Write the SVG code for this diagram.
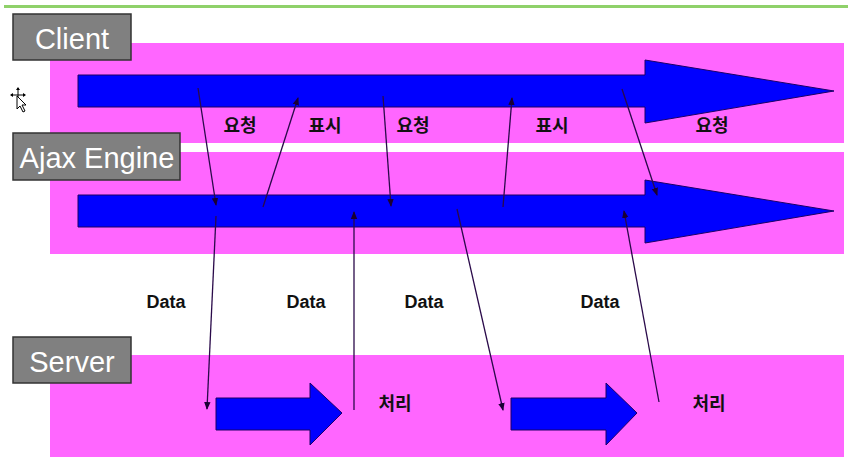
<svg xmlns="http://www.w3.org/2000/svg" width="848" height="460" viewBox="0 0 848 460">
<style>
.band{fill:#ff66ff}
.bar{fill:#0000ff;stroke:#1a0066;stroke-width:1}
.lbl{fill:#808080;stroke:#333333;stroke-width:1.5}
.lt{font-family:"Liberation Sans",Arial,sans-serif;font-size:29px;fill:#ffffff;text-anchor:middle}
.kt{font-family:"Noto Sans CJK KR","Liberation Sans",sans-serif;font-size:18px;font-weight:bold;fill:#111111;text-anchor:middle}
.dt{font-family:"Liberation Sans",Arial,sans-serif;font-size:18px;font-weight:bold;fill:#111111;text-anchor:middle}
.ln{stroke:#2a0a4a;stroke-width:1.3;fill:none;marker-end:url(#ah)}
</style>
<defs>
<marker id="ah" markerWidth="8" markerHeight="8" refX="7" refY="4" orient="auto" markerUnits="userSpaceOnUse">
<path d="M0,0.8 L8,4 L0,7.2 Z" fill="#1a0033"/>
</marker>
</defs>
<rect width="848" height="460" fill="#ffffff"/>
<line x1="4" y1="6.5" x2="848" y2="6.5" stroke="#8fd16a" stroke-width="3"/>

<g id="client-lane">
<rect class="band" x="50" y="43" width="794" height="100"/>
<path class="bar" d="M78,75 H645 V60 L834,91 L645,123 V107 H78 Z"/>
</g>
<g id="ajax-lane">
<rect class="band" x="50" y="152" width="794" height="102"/>
<path class="bar" d="M78,195 H645 V180 L834,211 L645,243 V227 H78 Z"/>
</g>
<g id="server-lane">
<rect class="band" x="50" y="355" width="794" height="102"/>
<path class="bar" d="M216,398 H310 V383 L342,413 L310,445 V430 H216 Z"/>
<path class="bar" d="M511,398 H606 V383 L637,413 L606,445 V430 H511 Z"/>
</g>

<g id="client-label">
<rect class="lbl" x="13" y="14" width="118" height="46"/>
<text class="lt" x="72" y="49">Client</text>
</g>
<g id="ajax-label">
<rect class="lbl" x="13" y="133" width="167" height="47"/>
<text class="lt" x="97" y="168">Ajax Engine</text>
</g>
<g id="server-label">
<rect class="lbl" x="13" y="337" width="118" height="46"/>
<text class="lt" x="72" y="372">Server</text>
</g>

<g id="connectors">
<line class="ln" x1="198" y1="88" x2="216" y2="205"/>
<line class="ln" x1="216" y1="216" x2="207" y2="409"/>
<line class="ln" x1="263" y1="207" x2="298" y2="98"/>
<line class="ln" x1="383" y1="96" x2="391" y2="206"/>
<line class="ln" x1="354" y1="410" x2="354" y2="212"/>
<line class="ln" x1="503" y1="207" x2="512" y2="98"/>
<line class="ln" x1="622" y1="89" x2="657" y2="195"/>
<line class="ln" x1="457" y1="209" x2="503" y2="410"/>
<line class="ln" x1="659" y1="402" x2="624" y2="211"/>
</g>

<g id="labels">
<text class="kt" x="240" y="132">요청</text>
<text class="kt" x="325" y="132">표시</text>
<text class="kt" x="413" y="132">요청</text>
<text class="kt" x="552" y="132">표시</text>
<text class="kt" x="712" y="132">요청</text>
<text class="dt" x="166" y="308">Data</text>
<text class="dt" x="306" y="308">Data</text>
<text class="dt" x="424" y="308">Data</text>
<text class="dt" x="600" y="308">Data</text>
<text class="kt" x="395" y="410">처리</text>
<text class="kt" x="709" y="410">처리</text>
</g>

<g id="cursor" stroke="#000" stroke-width="1" fill="#000">
<line x1="18" y1="88" x2="18" y2="102"/>
<line x1="11" y1="95" x2="25" y2="95"/>
<path d="M18,87 L16,90 H20 Z M10,95 L13,93 V97 Z M26,95 L23,93 V97 Z" stroke="none"/>
<path d="M17,96 V109 L20,106 L23,112 L25,111 L22,105 L26,105 Z" fill="#fff" stroke="#000"/>
</g>
</svg>
